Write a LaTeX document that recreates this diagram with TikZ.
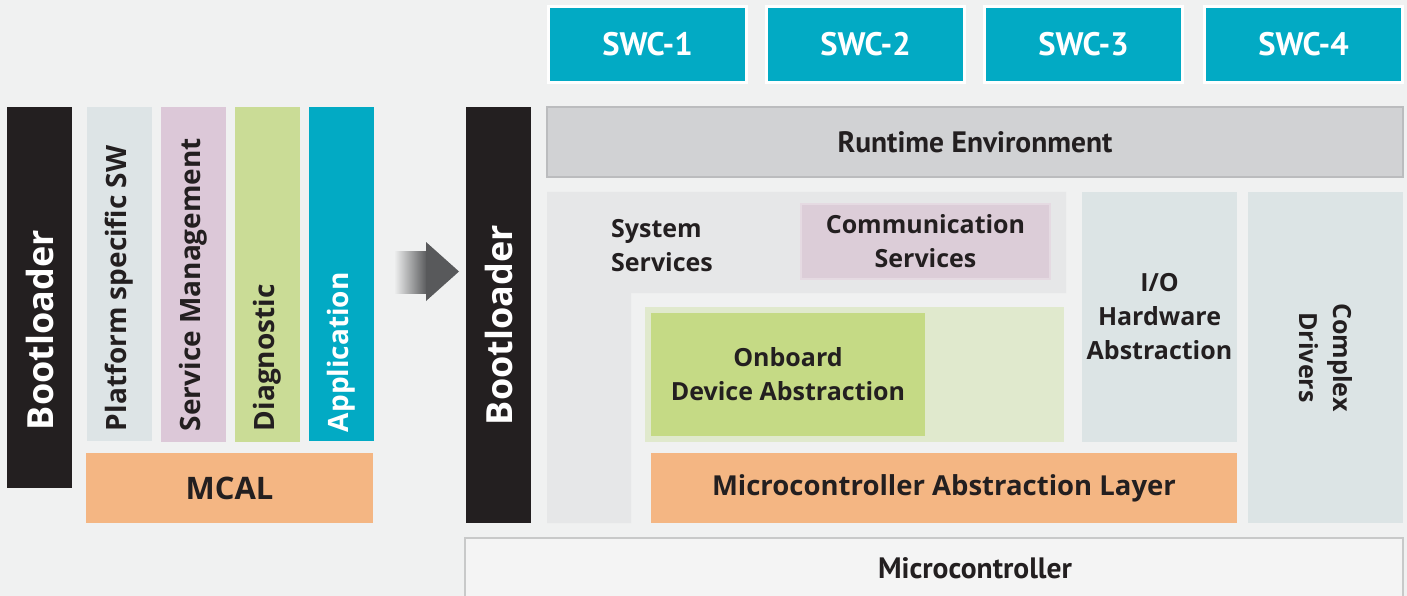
\documentclass[tikz,border=0pt]{standalone}
\usepackage{fontspec}
\setmainfont{Open Sans}
\newfontfamily\condf{PT Sans}
\definecolor{bgc}{HTML}{F0F1F1}
\definecolor{blk}{HTML}{231F20}
\definecolor{txt}{HTML}{231F20}
\definecolor{platc}{HTML}{DDE4E6}
\definecolor{servc}{HTML}{DCC8D8}
\definecolor{diagc}{HTML}{CADC96}
\definecolor{teal}{HTML}{02AAC4}
\definecolor{mcalc}{HTML}{F4B683}
\definecolor{rtec}{HTML}{D1D2D4}
\definecolor{rteb}{HTML}{BBBCBE}
\definecolor{sysc}{HTML}{E6E7E8}
\definecolor{comc}{HTML}{DCCDD8}
\definecolor{comb}{HTML}{E5DAE2}
\definecolor{obo}{HTML}{E0E9CD}
\definecolor{obi}{HTML}{C5DA85}
\definecolor{ioc}{HTML}{DCE4E5}
\definecolor{mcuc}{HTML}{F4F4F4}
\definecolor{mcub}{HTML}{C8C9C9}
\definecolor{arrc}{HTML}{58595B}
\newcommand\lblf{\fontsize{25bp}{34bp}\selectfont\bfseries}
\newcommand\malf{\fontsize{27.5bp}{34bp}\selectfont\bfseries}
\newcommand\vertf{\fontsize{28bp}{36bp}\selectfont\bfseries}
\newcommand\mcalf{\fontsize{31bp}{36bp}\selectfont\bfseries}
\newcommand\bootf{\fontsize{36bp}{40bp}\selectfont\bfseries}
\newcommand\swcf{\condf\fontsize{32.5bp}{36bp}\selectfont\bfseries}
\newcommand\rtef{\condf\fontsize{29.5bp}{32bp}\selectfont\bfseries}
\tikzset{
  box/.style={draw=none, inner sep=0pt, outer sep=0pt, text=txt, font=\lblf, align=center},
  vlab/.style={inner sep=0pt, outer sep=0pt, rotate=90, anchor=west, font=\vertf, text=txt},
  swcbox/.style={box, fill=teal, draw=white, line width=3bp, minimum width=198bp, minimum height=76bp, text=white, font=\swcf}
}
\begin{document}
\begin{tikzpicture}[x=1bp,y=-1bp]
\useasboundingbox (0,0) rectangle (1407,596);
\fill[bgc] (0,0) rectangle (1407,596);

% ---- left panel ----
\node[box, fill=blk, minimum width=65bp, minimum height=381bp] (bootL) at (39.5,297.5) {};
\node[vlab, font=\bootf, text=white] (bootLt) at (39.5,430) {Bootloader};
\node[box, fill=platc, minimum width=65bp, minimum height=334bp] (plat) at (119.5,274) {};
\node[vlab] (platt) at (119.5,431) {Platform specific SW};
\node[box, fill=servc, minimum width=65bp, minimum height=335bp] (serv) at (193.5,274.5) {};
\node[vlab] (servt) at (193.5,431) {Service Management};
\node[box, fill=diagc, minimum width=65bp, minimum height=335bp] (diag) at (267.5,274.5) {};
\node[vlab] (diagt) at (267.5,431) {Diagnostic};
\node[box, fill=teal, minimum width=65bp, minimum height=334bp] (app) at (341.5,274) {};
\node[vlab, text=white] (appt) at (341.5,432) {Application};
\node[box, fill=mcalc, minimum width=287bp, minimum height=70bp, font=\mcalf] (mcal) at (229.5,488) {MCAL};

% ---- arrow ----
\shade[left color=bgc, right color=arrc] (394,251) rectangle (427,293);
\fill[arrc] (426,242) -- (459,271.5) -- (426,301) -- cycle;

% ---- right panel ----
\node[box, fill=blk, minimum width=65bp, minimum height=416bp] (bootR) at (498.5,315) {};
\node[vlab, font=\bootf, text=white] (bootRt) at (498.5,425) {Bootloader};

\node[swcbox] (swc1) at (647.5,44.5) {SWC-1};
\node[swcbox] (swc2) at (865.5,44.5) {SWC-2};
\node[swcbox] (swc3) at (1083.5,44.5) {SWC-3};
\node[swcbox] (swc4) at (1303.5,44.5) {SWC-4};

\node[box, fill=rtec, draw=rteb, line width=2bp, minimum width=856bp, minimum height=70bp, font=\rtef] (rte) at (975,142) {Runtime Environment};

\fill[sysc] (547,192) -- (1066,192) -- (1066,293) -- (631,293) -- (631,523) -- (547,523) -- cycle;
\node[box, align=left] (syst) at (662,246) {System\\Services};

\node[box, fill=comc, draw=comb, line width=1.5bp, minimum width=249bp, minimum height=75bp] (com) at (925.5,241.5) {Communication\\Services};

\node[box, fill=obo, minimum width=419bp, minimum height=135bp] (obouter) at (854.5,374.5) {};
\node[box, fill=obi, minimum width=274bp, minimum height=123bp] (ob) at (788,374.5) {Onboard\\Device Abstraction};

\node[box, fill=mcalc, minimum width=586bp, minimum height=70bp, font=\malf] (mal) at (944,488) {Microcontroller Abstraction Layer};

\node[box, fill=ioc, minimum width=155bp, minimum height=250bp] (io) at (1159.5,317) {I/O\\Hardware\\Abstraction};
\node[box, fill=ioc, minimum width=155bp, minimum height=331bp] (cdd) at (1325.5,357.5) {};
\node[box, rotate=-90] (cddt) at (1325.5,357.5) {Complex\\Drivers};

\fill[mcuc, draw=mcub, line width=2bp] (465,538) rectangle (1403,610);
\node[box, font=\rtef] (mcu) at (975,568) {Microcontroller};
\end{tikzpicture}
\end{document}
